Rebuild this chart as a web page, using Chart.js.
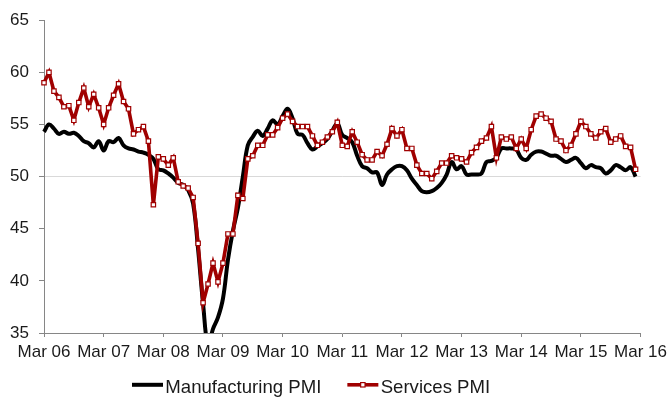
<!DOCTYPE html>
<html>
<head>
<meta charset="utf-8">
<script src="https://cdn.jsdelivr.net/npm/chart.js@4/dist/chart.umd.min.js"></script>
<style>
  html, body { margin: 0; padding: 0; background: #ffffff; }
  #wrap { width: 672px; height: 398px; }
</style>
</head>
<body>
<div id="wrap"><canvas id="pmi" width="672" height="398"></canvas></div>
<script>
// Year tick labels on the time axis
const tickLabels = ['Mar 06', 'Mar 07', 'Mar 08', 'Mar 09', 'Mar 10', 'Mar 11',
                    'Mar 12', 'Mar 13', 'Mar 14', 'Mar 15', 'Mar 16'];

// Monthly categories, Mar 06 through Mar 16
const monthNames = ['Jan', 'Feb', 'Mar', 'Apr', 'May', 'Jun', 'Jul', 'Aug', 'Sep', 'Oct', 'Nov', 'Dec'];
const categories = [];
for (let k = 0; k <= 120; k++) {
  const m = (2 + k) % 12;
  const yr = 6 + Math.floor((2 + k) / 12);
  categories.push(monthNames[m] + ' ' + String(yr).padStart(2, '0'));
}

// Manufacturing PMI, monthly from Mar 06
const manufacturing = [
  54.3, 55.0, 54.6, 54.1, 54.3, 54.1, 54.2, 53.9, 53.4, 53.2,
  52.8, 53.4, 52.5, 53.4, 53.3, 53.7, 53.0, 52.7, 52.6, 52.4,
  52.3, 52.1, 51.7, 50.7, 50.6, 50.3, 49.9, 49.4, 49.2, 48.7,
  47.4, 43.0, 37.8, 33.8, 35.4, 36.5, 38.3, 42.0, 44.8, 47.0,
  50.0, 53.0, 53.8, 54.4, 53.9, 54.6, 55.4, 55.0, 55.8, 56.5,
  55.6, 54.1, 54.0, 53.2, 52.6, 52.9, 53.2, 53.6, 54.4, 55.1,
  54.0, 53.7, 53.3, 52.0, 51.0, 50.8, 50.4, 50.4, 49.2, 50.2,
  50.7, 51.0, 51.0, 50.6, 49.8, 49.2, 48.6, 48.5, 48.6, 48.9,
  49.4, 50.2, 51.4, 50.7, 51.0, 50.2, 50.2, 50.2, 50.3, 51.4,
  51.5, 51.8, 52.7, 52.7, 52.7, 52.6, 51.8, 51.6, 52.1, 52.4,
  52.4, 52.2, 52.0, 52.0, 51.7, 51.4, 51.6, 51.8, 51.3, 50.8,
  51.1, 50.9, 50.8, 50.3, 50.6, 51.1, 50.9, 50.6, 50.9, 50.0
];

// Services PMI, monthly from Mar 06
const services = [
  59.0, 60.0, 58.2, 57.6, 56.7, 56.8, 55.4, 57.1, 58.5, 56.7,
  57.9, 56.6, 55.0, 56.6, 57.8, 58.9, 57.2, 56.5, 54.1, 54.5,
  54.8, 53.4, 47.3, 51.9, 51.7, 51.1, 51.8, 49.5, 49.1, 48.9,
  48.0, 43.6, 37.9, 39.7, 41.7, 39.9, 41.7, 44.5, 44.5, 48.2,
  47.9, 51.7, 52.0, 53.0, 53.0, 54.0, 54.0, 54.7, 55.6, 56.0,
  55.3, 54.8, 54.8, 54.8, 53.9, 53.0, 53.3, 53.8, 54.3, 55.2,
  53.0, 52.9, 54.3, 53.3, 52.1, 51.6, 51.6, 52.4, 52.0, 53.1,
  54.6, 53.9, 54.5, 52.7, 52.7, 51.1, 50.3, 50.3, 49.8, 50.5,
  51.3, 51.3, 52.0, 51.8, 51.7, 51.4, 52.3, 52.8, 53.4, 53.7,
  54.8, 51.8, 53.8, 53.6, 53.8, 52.7, 53.6, 52.7, 54.5, 55.8,
  56.0, 55.6, 55.3, 53.6, 53.4, 52.5, 53.0, 54.1, 55.3, 54.8,
  54.1, 53.7, 54.3, 54.6, 53.3, 53.6, 53.9, 52.9, 52.8, 50.7
];

const seriesNames = ['Manufacturing PMI', 'Services PMI'];

const FONT = "'Liberation Sans', Arial, sans-serif";
const TEXT = '#1a1a1a';
const AXIS = '#868686';
const RED = '#a00000';

// Legend: line samples (with a marker for the services series), placed under the axis
const legendSamples = {
  id: 'legendSamples',
  afterLayout(chart) {
    const lg = chart.legend;
    const dx = 106 - lg.left;
    lg.left += dx; lg.right += dx;
    lg.top = 352.5;
    lg.bottom = chart.height;
    lg.height = lg.bottom - lg.top;
  },
  afterDraw(chart) {
    const lg = chart.legend;
    const ctx = chart.ctx;
    lg.legendHitBoxes.forEach((hb, k) => {
      const ds = chart.data.datasets[k];
      const y = hb.top + hb.height / 2 - 3;
      ctx.save();
      ctx.strokeStyle = ds.borderColor;
      ctx.lineWidth = ds.borderWidth;
      ctx.beginPath();
      ctx.moveTo(hb.left, y);
      ctx.lineTo(hb.left + 31, y);
      ctx.stroke();
      if (ds.pointRadius > 0) {
        const s = 4.4;
        const cx = hb.left + 15.5;
        ctx.fillStyle = '#ffffff';
        ctx.lineWidth = 1.2;
        ctx.fillRect(cx - s / 2, y - s / 2, s, s);
        ctx.strokeRect(cx - s / 2, y - s / 2, s, s);
      }
      ctx.restore();
    });
  }
};

new Chart(document.getElementById('pmi'), {
  type: 'line',
  data: {
    labels: categories,
    datasets: [
      {
        label: seriesNames[0],
        data: manufacturing,
        borderColor: '#000000',
        backgroundColor: '#000000',
        borderWidth: 4,
        pointRadius: 0,
        tension: 0.4,
        order: 1
      },
      {
        label: seriesNames[1],
        data: services,
        borderColor: RED,
        backgroundColor: RED,
        borderWidth: 3.6,
        tension: 0,
        pointStyle: 'rect',
        pointRadius: 3.1,
        pointBorderWidth: 1.2,
        pointBorderColor: RED,
        pointBackgroundColor: '#ffffff',
        order: 0
      }
    ]
  },
  options: {
    responsive: false,
    animation: false,
    devicePixelRatio: 1,
    layout: { padding: { left: 0, right: 30, top: 16, bottom: 0 } },
    plugins: {
      tooltip: { enabled: false },
      title: { display: false },
      legend: {
        display: true,
        position: 'bottom',
        align: 'start',
        maxHeight: 30,
        labels: {
          font: { family: FONT, size: 18.6 },
          color: TEXT,
          boxWidth: 24,
          boxHeight: 4,
          padding: 26,
          generateLabels: (chart) => chart.data.datasets.map((ds, i) => ({
            text: ds.label,
            fillStyle: 'rgba(0,0,0,0)',
            strokeStyle: 'rgba(0,0,0,0)',
            lineWidth: 0,
            hidden: false,
            datasetIndex: i,
            fontColor: TEXT
          }))
        }
      }
    },
    scales: {
      x: {
        type: 'category',
        offset: false,
        afterFit: (scale) => { scale.height = 35; },
        border: { display: true, color: AXIS, width: 1 },
        grid: {
          display: true,
          drawOnChartArea: false,
          drawTicks: true,
          tickLength: 4,
          tickColor: AXIS
        },
        ticks: {
          autoSkip: false,
          maxRotation: 0,
          minRotation: 0,
          padding: 5,
          color: TEXT,
          font: { family: FONT, size: 17 },
          callback: function (value, index) {
            const lab = categories[index];
            return tickLabels.includes(lab) ? lab : null;
          }
        }
      },
      y: {
        min: 35,
        max: 65,
        afterFit: (scale) => { scale.width = 44; },
        border: { display: true, color: AXIS, width: 1 },
        grid: {
          display: true,
          drawOnChartArea: true,
          drawTicks: true,
          tickLength: 5,
          tickColor: AXIS,
          color: (c) => (c.tick && c.tick.value === 50 ? '#d9d9d9' : 'rgba(0,0,0,0)'),
          lineWidth: 1
        },
        ticks: {
          stepSize: 5,
          padding: 10,
          color: TEXT,
          font: { family: FONT, size: 17 }
        }
      }
    }
  },
  plugins: [legendSamples]
});
</script>
</body>
</html>
